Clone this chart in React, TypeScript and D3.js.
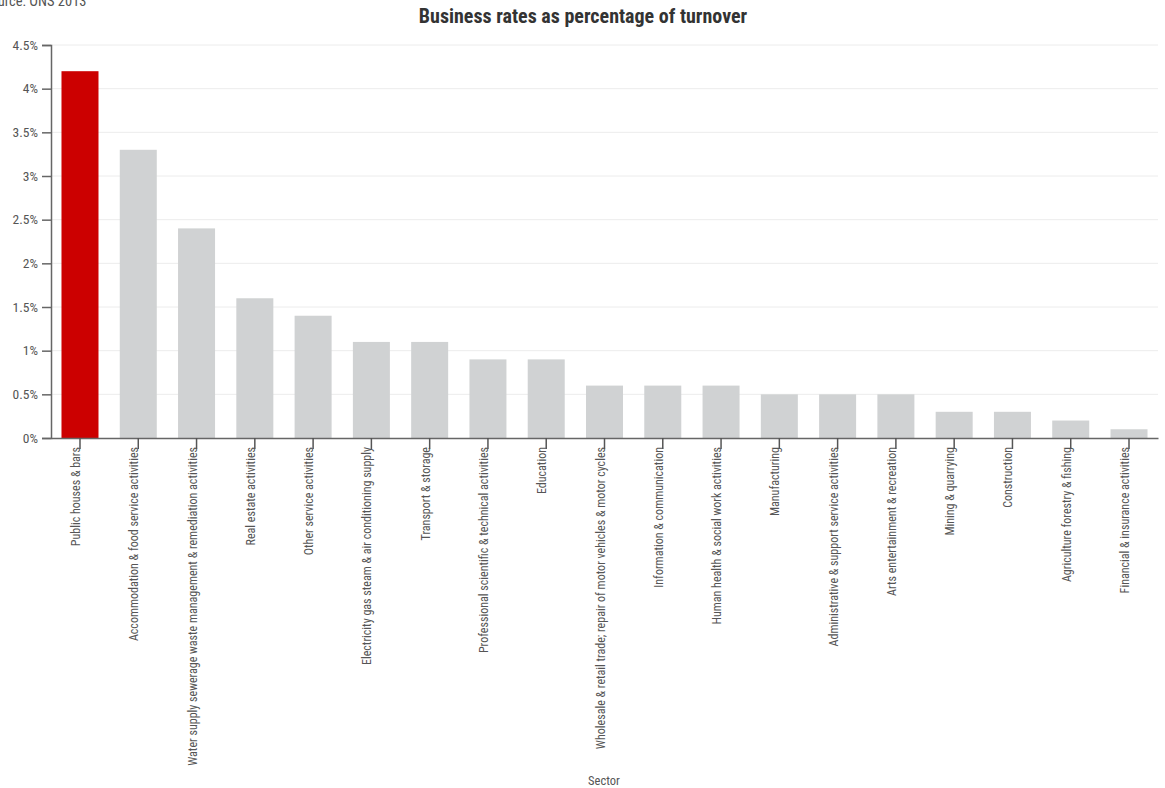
import React, { useEffect, useRef } from "react";
import * as d3 from "d3";

const categories = [
  "Public houses & bars",
  "Accommodation & food service activities",
  "Water supply sewerage waste management & remediation activities",
  "Real estate activities",
  "Other service activities",
  "Electricity gas steam & air conditioning supply",
  "Transport & storage",
  "Professional scientific & technical activities",
  "Education",
  "Wholesale & retail trade; repair of motor vehicles & motor cycles",
  "Information & communication",
  "Human health & social work activities",
  "Manufacturing",
  "Administrative & support service activities",
  "Arts entertainment & recreation",
  "Mining & quarrying",
  "Construction",
  "Agriculture forestry & fishing",
  "Financial & insurance activities",
];
const values = [4.2, 3.3, 2.4, 1.6, 1.4, 1.1, 1.1, 0.9, 0.9, 0.6, 0.6, 0.6, 0.5, 0.5, 0.5, 0.3, 0.3, 0.2, 0.1];
const yTicks = [0, 0.5, 1, 1.5, 2, 2.5, 3, 3.5, 4, 4.5];
const highlight = "Public houses & bars";

const W = 1165, H = 788;
const margin = { left: 51, right: 7, top: 45, bottom: 350 };
const FONT = "'Roboto Condensed', 'Liberation Sans Narrow', 'DejaVu Sans Condensed', Roboto, sans-serif";

export default function App() {
  const ref = useRef<SVGSVGElement>(null);
  useEffect(() => {
    const svg = d3.select(ref.current);
    svg.selectAll("*").remove();
    const x = d3.scaleBand<string>().domain(categories).range([margin.left, W - margin.right])
      .paddingInner(0.365).paddingOuter(0.18);
    const y = d3.scaleLinear().domain([0, 4.5]).range([H - margin.bottom, margin.top]);

    // gridlines
    svg.append("g").selectAll("line").data(yTicks.slice(1)).join("line")
      .attr("x1", margin.left).attr("x2", W - margin.right)
      .attr("y1", d => y(d)).attr("y2", d => y(d))
      .attr("stroke", "#ececec").attr("stroke-width", 1);

    // bars
    svg.append("g").selectAll("rect").data(categories).join("rect")
      .attr("x", d => x(d)!).attr("width", x.bandwidth())
      .attr("y", (d, i) => y(values[i])).attr("height", (d, i) => y(0) - y(values[i]))
      .attr("fill", d => d === highlight ? "#cc0000" : "#d0d2d3");

    // y axis
    const ya = svg.append("g").attr("transform", `translate(${margin.left},0)`)
      .call(d3.axisLeft(y).tickValues(yTicks).tickSize(9).tickPadding(4).tickFormat(d => `${d}%`));
    ya.select(".domain").attr("stroke", "#666").attr("stroke-width", 1.5);
    ya.selectAll(".tick line").attr("stroke", "#666").attr("stroke-width", 1.5);
    ya.selectAll("text").attr("font-family", FONT).attr("font-size", 13.5).attr("fill", "#555");

    // x axis
    const xa = svg.append("g").attr("transform", `translate(0,${y(0)})`)
      .call(d3.axisBottom(x).tickSize(11).tickSizeOuter(0));
    xa.select(".domain").attr("stroke", "#666").attr("stroke-width", 1.5);
    xa.selectAll(".tick line").attr("stroke", "#555").attr("stroke-width", 1.5);
    xa.selectAll("text")
      .attr("font-family", FONT).attr("font-size", 12).attr("fill", "#555")
      .attr("transform", "rotate(-90)").attr("text-anchor", "end")
      .attr("x", -9).attr("y", 0).attr("dy", "0em");

    // title
    svg.append("text").attr("x", 583).attr("y", 23).attr("text-anchor", "middle")
      .attr("font-family", FONT).attr("font-weight", "bold").attr("font-size", 20).attr("fill", "#333")
      .text("Business rates as percentage of turnover");
    // source
    svg.append("text").attr("x", -17).attr("y", 6)
      .attr("font-family", FONT).attr("font-size", 14.5).attr("fill", "#555")
      .text("Source: ONS 2013");
    // axis label
    svg.append("text").attr("x", 604).attr("y", 785).attr("text-anchor", "middle")
      .attr("font-family", FONT).attr("font-size", 12.5).attr("fill", "#555")
      .text("Sector");
  }, []);
  return (
    <svg ref={ref} width={W} height={H} style={{ position: "absolute", left: 0, top: 0, background: "#fff" }} />
  );
}
